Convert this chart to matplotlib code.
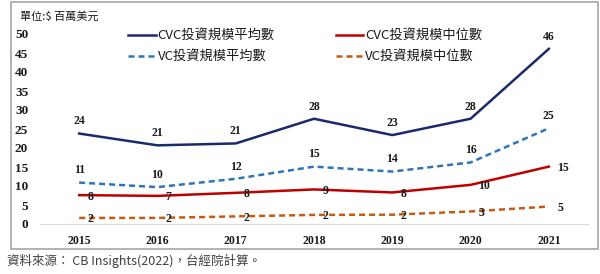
import matplotlib
matplotlib.use("Agg")
import matplotlib.pyplot as plt
from matplotlib.patches import Rectangle

years = [2015, 2016, 2017, 2018, 2019, 2020, 2021]
cvc_mean = [23.8, 20.7, 21.2, 27.7, 23.4, 27.7, 46.1]
vc_mean = [10.9, 9.7, 11.9, 15.1, 13.8, 16.2, 25.2]
cvc_median = [7.6, 7.4, 8.2, 9.1, 8.3, 10.3, 15.1]
vc_median = [1.6, 1.6, 2.0, 2.4, 2.45, 3.3, 4.6]
yticks = [0, 5, 10, 15, 20, 25, 30, 35, 40, 45, 50]
names = ["CVC投資規模平均數", "CVC投資規模中位數", "VC投資規模平均數", "VC投資規模中位數"]

CJK = ["Noto Sans CJK TC", "DejaVu Sans"]
SERIF = "Liberation Serif"

W, H = 600, 274
fig = plt.figure(figsize=(W / 100, H / 100), dpi=100)
ax = fig.add_axes([40 / W, 1 - 224 / H, (588 - 40) / W, (224 - 34) / H])

c_navy = "#1B2A6B"
c_red = "#C00000"
c_blue = "#2E75B6"
c_orange = "#C55A11"

lw = 1.8
l1, = ax.plot(years, cvc_mean, color=c_navy, lw=lw)
l2, = ax.plot(years, cvc_median, color=c_red, lw=lw)
l3, = ax.plot(years, vc_mean, color=c_blue, lw=lw, dashes=(2.4, 1.6))
l4, = ax.plot(years, vc_median, color=c_orange, lw=lw, dashes=(2.4, 1.6))

lab_kw = dict(fontfamily=SERIF, fontweight="bold", fontsize=8.5, color="#1a1a1a",
              textcoords="offset points", ha="center", va="center")
for x, v in zip(years, cvc_mean):
    ax.annotate(f"{v:.0f}", (x, v), xytext=(0, 8.8), **lab_kw)
for x, v in zip(years, vc_mean):
    ax.annotate(f"{v:.0f}", (x, v), xytext=(0, 8.8), **lab_kw)
for i, (x, v) in enumerate(zip(years, cvc_median)):
    dx = 10 if i >= 5 else 8
    ax.annotate(f"{v:.0f}", (x, v), xytext=(dx, -1), **lab_kw)
for i, (x, v) in enumerate(zip(years, vc_median)):
    ax.annotate(f"{v:.0f}", (x, v), xytext=(8, -0.8), **lab_kw)

ax.set_xlim(2014.5, 2021.5)
ax.set_ylim(0, 50)
ax.set_xticks(years)
ax.set_xticklabels([str(y) for y in years])
ax.set_yticks(yticks)
ax.set_yticklabels([str(t) for t in yticks])
for lbl in ax.get_xticklabels():
    lbl.set_fontsize(8.5)
for lbl in ax.get_yticklabels():
    lbl.set_fontsize(9.5)
for lbl in ax.get_xticklabels() + ax.get_yticklabels():
    lbl.set_fontfamily(SERIF)
    lbl.set_fontweight("bold")
    lbl.set_color("#1a1a1a")
ax.tick_params(axis="both", length=0)
ax.tick_params(axis="x", pad=8)
ax.tick_params(axis="y", pad=8.5)
for s in ["left", "right", "top"]:
    ax.spines[s].set_visible(False)
ax.spines["bottom"].set_color("#D9D9D9")
ax.spines["bottom"].set_linewidth(0.8)
ax.patch.set_alpha(0)

leg = fig.legend([l1, l3, l2, l4], [names[0], names[2], names[1], names[3]],
                 ncol=2, loc="upper left",
                 bbox_to_anchor=(128 / W, 1 - 30 / H), frameon=False,
                 prop={"family": CJK, "size": 9.5}, handlelength=2.1,
                 handletextpad=0.15, columnspacing=4.6, labelspacing=0.55,
                 borderpad=0, borderaxespad=0)
for t in leg.get_texts():
    t.set_color("#1a1a1a")

fig.text(20 / W, 1 - 17 / H, "單位:$ 百萬美元", fontfamily=CJK, fontsize=8,
         color="#1a1a1a", ha="left", va="center")

fig.add_artist(Rectangle((11 / W, 1 - 249 / H), (598 - 11) / W, (249 - 1.5) / H,
                         transform=fig.transFigure, fill=False,
                         edgecolor="#A6A6A6", linewidth=1.2))

fig.text(7 / W, 1 - 261 / H, "資料來源： CB Insights(2022)，台經院計算。",
         fontfamily=CJK, fontsize=9, color="#404040", ha="left", va="center")

fig.savefig("out.png", dpi=100)
